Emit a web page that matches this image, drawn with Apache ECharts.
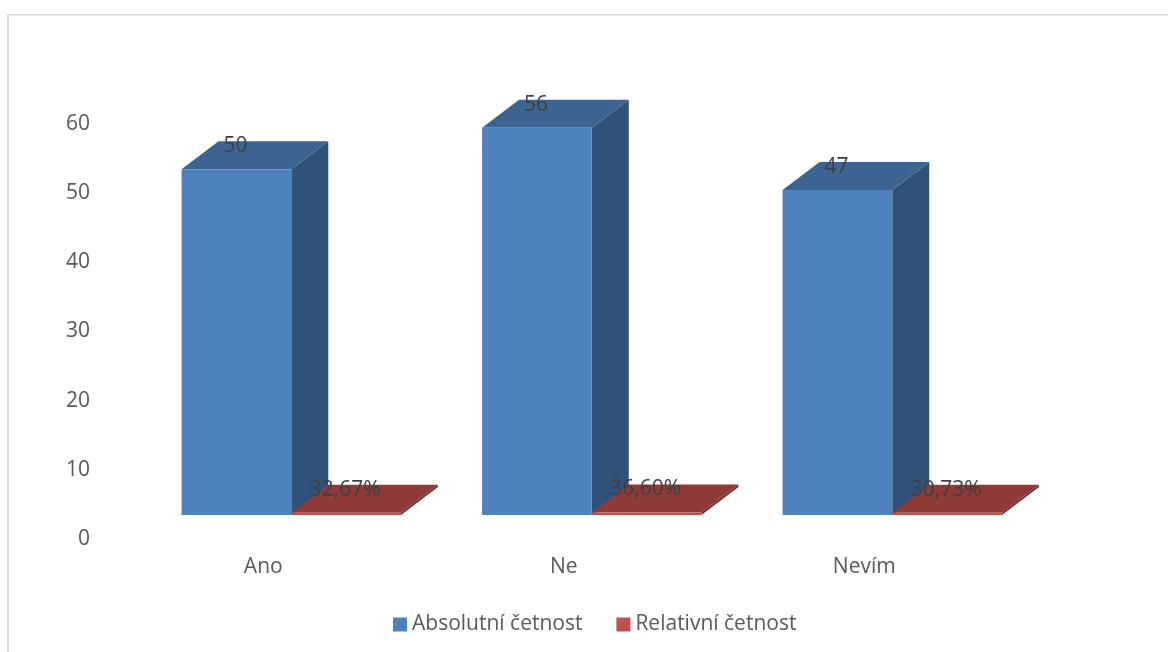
<!DOCTYPE html>
<html>
<head>
<meta charset="utf-8">
<style>html,body{margin:0;padding:0;background:#fff}#chart{width:1168px;height:652px}</style>
<script src="https://cdn.jsdelivr.net/npm/echarts@6/dist/echarts.min.js"></script>
</head>
<body>
<div id="chart"></div>
<script>
const categories = ['Ano', 'Ne', 'Nevím'];
const absoluteCounts = [50, 56, 47];
const relativeShares = [0.3267, 0.3660, 0.3073];
const yTicks = { min: 0, max: 60, interval: 10 };

// Oblique projection of the bars: front plane offset from the axes, then box depth.
const FRONT_SHIFT = [28, -24];
const DEPTH = [37, -28];
const BAR_BAND_RATIO = 0.365;
const FONT = '"Open Sans", sans-serif';

function box(side, palette, labelFor) {
  return function (params, api) {
    const idx = api.value(0);
    const val = api.value(1);
    const top = api.coord([idx, val]);
    const base = api.coord([idx, 0]);
    const w = api.size([1, 0])[0] * BAR_BAND_RATIO;
    const cx = top[0] + FRONT_SHIFT[0];
    const x0 = side < 0 ? cx - w : cx;
    const x1 = x0 + w;
    const yT = top[1] + FRONT_SHIFT[1];
    const yB = base[1] + FRONT_SHIFT[1];
    const [dx, dy] = DEPTH;
    const poly = (points, fill) => ({ type: 'polygon', shape: { points }, style: { fill } });
    return {
      type: 'group',
      children: [
        poly([[x1, yT], [x1 + dx, yT + dy], [x1 + dx, yB + dy], [x1, yB]], palette.side),
        poly([[x0, yT], [x0 + dx, yT + dy], [x1 + dx, yT + dy], [x1, yT]], palette.top),
        poly([[x0, yT], [x1, yT], [x1, yB], [x0, yB]], palette.front),
        {
          type: 'text',
          z2: 100,
          style: {
            x: (x0 + x1) / 2 - 1,
            y: yT + dy + 5,
            text: labelFor(val),
            fill: '#404040',
            font: '21px ' + FONT,
            align: 'center',
            verticalAlign: 'middle'
          }
        }
      ]
    };
  };
}

const chart = echarts.init(document.getElementById('chart'), null, { renderer: 'canvas' });
chart.setOption({
  animation: false,
  backgroundColor: '#fff',
  textStyle: { fontFamily: FONT },
  grid: { left: 113, top: 124, width: 901.5, height: 415 },
  xAxis: {
    type: 'category',
    data: categories,
    axisLine: { show: false },
    axisTick: { show: false },
    axisLabel: { color: '#595959', fontSize: 21, fontFamily: FONT, margin: 18 }
  },
  yAxis: {
    type: 'value',
    min: yTicks.min,
    max: yTicks.max,
    interval: yTicks.interval,
    axisLine: { show: false },
    axisTick: { show: false },
    splitLine: { show: false },
    axisLabel: { color: '#595959', fontSize: 21, fontFamily: FONT, margin: 23 }
  },
  legend: {
    left: 388,
    top: 609,
    icon: 'rect',
    itemWidth: 14,
    itemHeight: 14,
    itemGap: 34,
    textStyle: { color: '#595959', fontSize: 21, fontFamily: FONT },
    data: ['Absolutní četnost', 'Relativní četnost']
  },
  graphic: [
    { type: 'rect', silent: true, shape: { x: 7, y: 14, width: 1161, height: 1.5 }, style: { fill: '#d9d9d9' } },
    { type: 'rect', silent: true, shape: { x: 7, y: 14, width: 2, height: 638 }, style: { fill: '#d9d9d9' } }
  ],
  series: [
    {
      name: 'Absolutní četnost',
      type: 'custom',
      itemStyle: { color: '#4F81BD' },
      data: absoluteCounts.map((v, i) => [i, v]),
      encode: { x: 0, y: 1 },
      renderItem: box(-1, { front: '#4F81BD', top: '#3B6491', side: '#305278' }, v => String(v))
    },
    {
      name: 'Relativní četnost',
      type: 'custom',
      itemStyle: { color: '#C0504D' },
      data: relativeShares.map((v, i) => [i, v]),
      encode: { x: 0, y: 1 },
      renderItem: box(1, { front: '#C0504D', top: '#8E3A38', side: '#6F2C2B' },
        v => (v * 100).toFixed(2).replace('.', ',') + '%')
    }
  ]
});
</script>
</body>
</html>
